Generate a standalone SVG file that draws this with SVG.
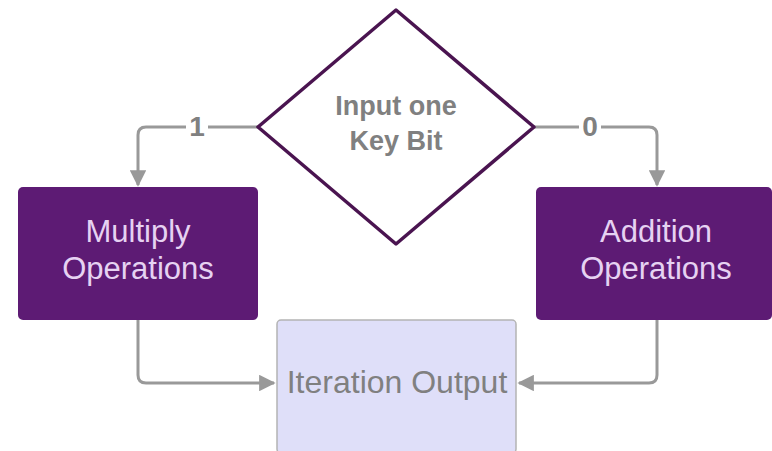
<svg xmlns="http://www.w3.org/2000/svg" width="772" height="451" viewBox="0 0 772 451">
  <defs>
    <marker id="arrow" viewBox="0 0 10 10" refX="9" refY="5" markerWidth="5.5" markerHeight="5.5" orient="auto" markerUnits="strokeWidth">
      <path d="M0,0 L10,5 L0,10 z" fill="#999999"/>
    </marker>
    <style>
      .conn { fill: none; stroke: #999999; stroke-width: 3; stroke-linejoin: round; }
      .op { fill: #5d1b74; }
      .opText { font-family: "Liberation Sans", Arial, sans-serif; font-size: 31px; fill: #e6d2f2; text-anchor: middle; }
      .diamondText { font-family: "Liberation Sans", Arial, sans-serif; font-size: 27px; font-weight: bold; fill: #808080; text-anchor: middle; }
      .edgeLabel { font-family: "Liberation Sans", Arial, sans-serif; font-size: 28px; font-weight: bold; fill: #808080; text-anchor: middle; }
      .outText { font-family: "Liberation Sans", Arial, sans-serif; font-size: 32px; fill: #808080; text-anchor: middle; }
    </style>
  </defs>
  <rect width="772" height="451" fill="#ffffff"/>

  <g id="connectors">
    <path class="conn" d="M258,127 H146 Q138,127 138,135 V185" marker-end="url(#arrow)"/>
    <path class="conn" d="M534,127 H649 Q657,127 657,135 V185" marker-end="url(#arrow)"/>
    <path class="conn" d="M138,320 V375 Q138,383 146,383 H274" marker-end="url(#arrow)"/>
    <path class="conn" d="M657,320 V375 Q657,383 649,383 H519" marker-end="url(#arrow)"/>
    <rect x="186" y="112" width="22" height="28" fill="#ffffff"/>
    <text class="edgeLabel" x="197" y="136">1</text>
    <rect x="579" y="112" width="22" height="28" fill="#ffffff"/>
    <text class="edgeLabel" x="590" y="136">0</text>
  </g>

  <g id="decision">
    <path d="M396,10 L534,127 L396,244 L258,127 Z" fill="#ffffff" stroke="#4a1450" stroke-width="3.5" stroke-linejoin="round"/>
    <text class="diamondText" x="396" y="115">Input one</text>
    <text class="diamondText" x="396" y="150">Key Bit</text>
  </g>

  <g id="multiply">
    <rect class="op" x="18" y="187" width="240" height="133" rx="5"/>
    <text class="opText" x="138" y="242">Multiply</text>
    <text class="opText" x="138" y="279">Operations</text>
  </g>

  <g id="addition">
    <rect class="op" x="536" y="187" width="236" height="133" rx="5"/>
    <text class="opText" x="656" y="242">Addition</text>
    <text class="opText" x="656" y="279">Operations</text>
  </g>

  <g id="output">
    <rect x="277" y="320" width="239" height="133" rx="4" fill="#dfdff9" stroke="#b4b4b4" stroke-width="1.5"/>
    <text class="outText" x="397" y="393">Iteration Output</text>
  </g>
</svg>
